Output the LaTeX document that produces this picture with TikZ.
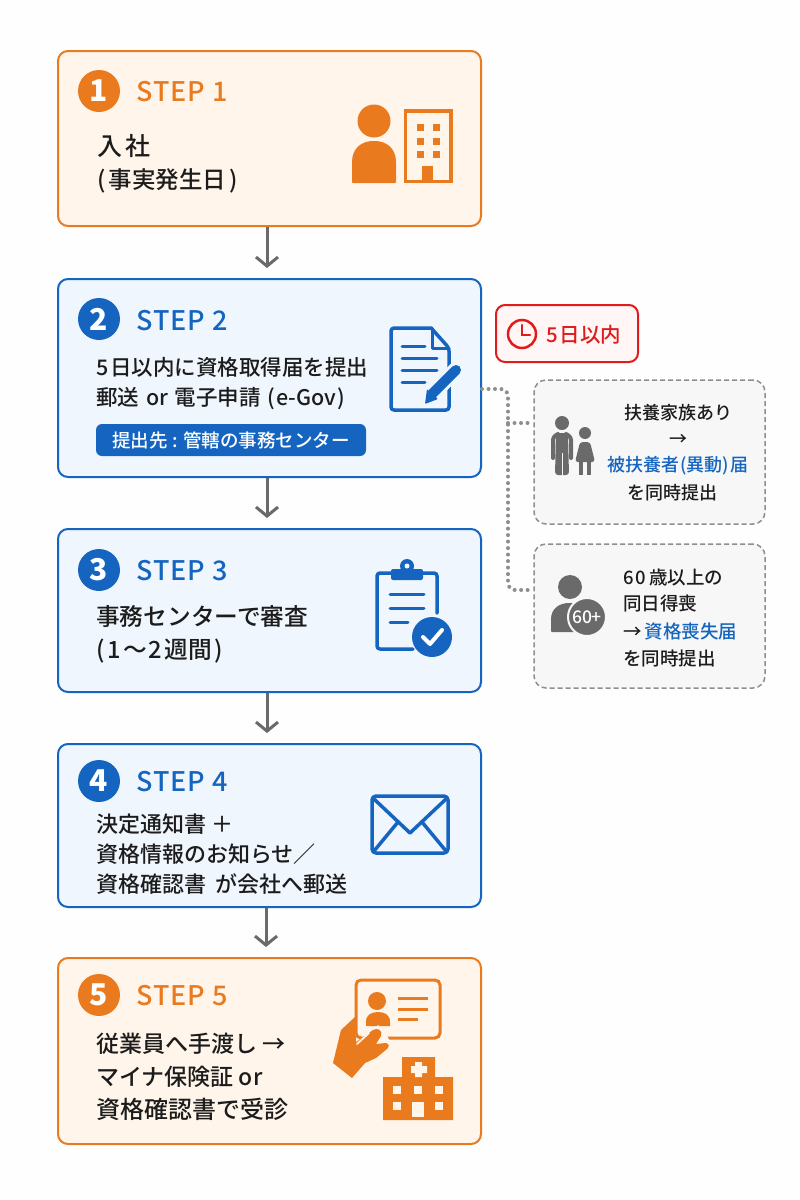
\documentclass[tikz,border=0pt]{standalone}
\usepackage{fontspec}
\setmainfont{Noto Sans CJK JP Medium}
\newfontfamily\titlefont[LetterSpace=4]{Noto Sans CJK JP Medium}
\usetikzlibrary{arrows.meta}
\definecolor{orangeline}{HTML}{EA7A1E}
\definecolor{orangefill}{HTML}{FFF5EB}
\definecolor{blueline}{HTML}{1565C0}
\definecolor{bluefill}{HTML}{F0F6FD}
\definecolor{redline}{HTML}{E01B1B}
\definecolor{redfill}{HTML}{FFF6F5}
\definecolor{grayicon}{HTML}{6A6A6A}
\definecolor{grayline}{HTML}{8E8E8E}
\definecolor{grayfill}{HTML}{F7F7F7}
\definecolor{inktext}{HTML}{1C1C1C}
\definecolor{pagefill}{HTML}{FEFEFE}
\tikzset{
  stepbox/.style={draw=#1line,fill=#1fill,line width=2pt,rounded corners=10pt,
    minimum width=423pt,inner sep=0pt},
  numdot/.style={fill=#1line,shape=circle,minimum size=42pt,inner sep=0pt,
    text=white,font=\fontsize{30}{30}\selectfont\bfseries},
  steptitle/.style={anchor=west,inner sep=0pt,text=#1line,
    font=\fontsize{27}{27}\selectfont\titlefont},
  bodytext/.style={anchor=west,inner sep=0pt,align=left,text=inktext,
    font=\fontsize{#1}{33}\selectfont},
  notebox/.style={draw=grayline,fill=grayfill,line width=1.5pt,
    dash pattern=on 5pt off 3pt,
    rounded corners=12pt,minimum width=231pt,minimum height=144pt,inner sep=0pt},
  notetext/.style={inner sep=0pt,text=inktext,font=\fontsize{18}{18}\selectfont},
  flowarrow/.style={draw=grayicon,line width=3pt,shorten >=10pt,
    -{Straight Barb[length=9pt,width=22pt,line width=3pt]}},
  dotline/.style={draw=grayline,line width=4pt,line cap=round,
    dash pattern=on 0pt off 6.5pt,rounded corners=7pt},
  oline/.style={draw=orangeline,line width=3.5pt},
  bline/.style={draw=blueline,line width=3.5pt,line cap=round},
}
\begin{document}
\begin{tikzpicture}[x=1pt,y=-1pt]
      \useasboundingbox (0,0) rectangle (800,1200) ;
      \fill[pagefill] (0,0) rectangle (800,1200) ;
      % boxes
      \node[stepbox=orange,minimum height=175pt] (s1) at (269.5,138.5) {} ;
      \node[stepbox=blue,minimum height=198pt] (s2) at (269.5,378) {} ;
      \node[stepbox=blue,minimum height=163pt] (s3) at (269.5,610.5) {} ;
      \node[stepbox=blue,minimum height=163pt] (s4) at (269.5,825.5) {} ;
      \node[stepbox=orange,minimum height=186pt] (s5) at (269.5,1051) {} ;
      \node[notebox] (n1) at (649.5,452) {} ;
      \node[notebox] (n2) at (649.5,616) {} ;
      \node[draw=redline,fill=redfill,line width=2pt,rounded corners=9pt,
        minimum width=142pt,minimum height=57pt,inner sep=0pt] (limit) at (567,333.5) {} ;
      % arrows
      \draw[flowarrow] ([xshift=-2.5pt]s1.south) -- ([xshift=-2.5pt]s2.north) ;
      \draw[flowarrow] ([xshift=-2.5pt]s2.south) -- ([xshift=-2.5pt]s3.north) ;
      \draw[flowarrow] ([xshift=-2.5pt]s3.south) -- ([xshift=-2.5pt]s4.north) ;
      \draw[flowarrow] ([xshift=-3.5pt]s4.south) -- ([xshift=-3.5pt]s5.north) ;
      % dotted links
      \coordinate (fork) at (508,423) ;
      \coordinate (out) at (s2.east |- 0,389) ;
      \draw[dotline] (out) -- (508,389) -- (508,590) -- (n2.west |- 0,590) ;
      \draw[dotline] (fork) -- (n1.west |- fork) ;
      % step heads
      \node[numdot=orange] (d1) at (99,91) {1} ;
      \node[numdot=blue] (d2) at (99,319) {2} ;
      \node[numdot=blue] (d3) at (99,570) {3} ;
      \node[numdot=blue] (d4) at (99,781) {4} ;
      \node[numdot=orange] (d5) at (99,995) {5} ;
      \node[steptitle=orange] (t1) at (136,92) {STEP 1} ;
      \node[steptitle=blue] (t2) at (136,321) {STEP 2} ;
      \node[steptitle=blue] (t3) at (136,571) {STEP 3} ;
      \node[steptitle=blue] (t4) at (136,782) {STEP 4} ;
      \node[steptitle=orange] (t5) at (136,996) {STEP 5} ;
      % step texts
      \node[bodytext=25] (b1a) at (97,146) {入\hspace{3pt}社} ;
      \node[bodytext=23.5] (b1b) at (97,181) {(\hspace{3pt}事実発生日\hspace{3pt})} ;
      \node[bodytext=21.5] (b2) at (96,384) {5\hspace{2pt}日以内に資格取得届を提出\\[-3pt]郵送\hspace{2pt} or \hspace{2pt}電子申請\hspace{2pt} (\hspace{1pt}e-Gov\hspace{1pt})} ;
      \node[fill=blueline,rounded corners=6pt,minimum width=270pt,minimum height=32pt,
        inner sep=0pt,text=white,font=\fontsize{18.5}{18.5}\selectfont] (pill) at (231,440)
        {提出先 : 管轄の事務センター} ;
      \node[bodytext=23.7] (b3) at (96,634) {事務センターで審査\\(\hspace{3pt}1\hspace{2pt}～\hspace{2pt}2\hspace{2pt}週間\hspace{3pt})} ;
      \node[bodytext=22] (b4) at (96,854) {決定通知書 ＋\\[-3pt]資格情報のお知らせ／\\[-3pt]資格確認書\hspace{4pt} が会社へ郵送} ;
      \node[bodytext=23] (b5) at (96,1076.5) {従業員へ手渡し →\\マイナ保険証 or\\{\fontsize{24}{33}\selectfont 資格確認書で受診}} ;
      % limit badge
      \draw[draw=redline,line width=2.5pt] (522,334) circle (14pt) ;
      \draw[draw=redline,line width=2.5pt,line cap=round] (522,325) -- (522,335) -- (530,335) ;
      \node[anchor=west,inner sep=0pt,text=redline,font=\fontsize{20.5}{20.5}\selectfont] (lt) at (546,335) {5\hspace{2pt}日以内} ;
      % note texts
      \node[notetext] (n1a) at (678,413) {扶養家族あり} ;
      \node[notetext] (n1b) at (678,440) {→} ;
      \node[notetext,text=blueline] (n1c) at (678,466) {被扶養者\hspace{1pt}(異動)\hspace{1pt}届} ;
      \node[notetext] (n1d) at (672,493) {を同時提出} ;
      \node[notetext,anchor=west,font=\fontsize{18.5}{18.5}\selectfont] (n2a) at (623,577) {6\hspace{2pt}0\hspace{3pt}歳以上の} ;
      \node[notetext,anchor=west,font=\fontsize{18.5}{18.5}\selectfont] (n2b) at (623,603) {同日得喪} ;
      \node[notetext,anchor=west,font=\fontsize{18.5}{18.5}\selectfont] (n2c) at (623,631) {→\,\textcolor{blueline}{資格喪失届}} ;
      \node[notetext,anchor=west,font=\fontsize{18.5}{18.5}\selectfont] (n2d) at (623,658) {を同時提出} ;
      % icon step 1
      \fill[orangeline] (374,121) circle (16.5pt) ;
      \fill[orangeline,rounded corners=1pt] (352,183) -- (352,163) .. controls (352,148) and (362,141) .. (374,141)
        .. controls (386,141) and (396,148) .. (396,163) -- (396,183) -- cycle ;
      \draw[oline] (405.5,111) rectangle (451,181.5) ;
      \foreach \wx in {420,436} \foreach \wy in {127,141,154}
        \fill[orangeline] (\wx-3.5,\wy-3.5) rectangle (\wx+3.5,\wy+3.5) ;
      \fill[orangeline] (422,166) rectangle (433,182) ;
      % icon step 2
      \draw[bline,line join=round,rounded corners=3pt] (432,328) -- (391,328) -- (391,410) -- (449,410) -- (449,348) -- (432,329) ;
      \draw[bline,line join=round,line width=3pt] (432,329) -- (432,348) -- (449,348) ;
      \draw[bline,line width=3pt] (402,346) -- (425,346) (402,358) -- (437,358) (402,370) -- (437,370) (402,382) -- (425,382) ;
      \draw[draw=bluefill,line width=16pt,line cap=round] (432,394) -- (456,370) ;
      \draw[draw=blueline,line width=10pt,line cap=round] (433,393) -- (456,370) ;
      \fill[blueline,rounded corners=1pt] (425,404) -- (427,389) -- (438,399) -- cycle ;
      % icon step 3
      \draw[bline,line join=round,rounded corners=3pt] (392,573) -- (377,573) -- (377,649) -- (413,649) ;
      \draw[bline,rounded corners=3pt] (422,573) -- (437,573) -- (437,613) ;
      \fill[blueline,rounded corners=2pt] (391,569) rectangle (423,580) ;
      \fill[blueline] (407,566) circle (7pt) ;
      \fill[bluefill] (407,566) circle (2.5pt) ;
      \draw[bline,line width=3pt] (390,594) -- (424,594) (390,608) -- (424,608) (390,622) -- (408,622) ;
      \fill[blueline] (432,637) circle (20pt) ;
      \draw[draw=white,line width=4pt,line cap=round,line join=round] (423,637) -- (430,644) -- (442,630) ;
      % icon step 4
      \draw[bline,line join=round,rounded corners=4pt] (372,796) rectangle (448,853) ;
      \draw[bline,line join=round] (374,799) -- (410,833) -- (446,799) ;
      \draw[bline] (374,851) -- (398,822) (446,851) -- (422,822) ;
      % icon step 5
      \draw[oline,line width=3pt,rounded corners=5pt] (356,980) rectangle (440,1038) ;
      \fill[orangeline] (377,1001) circle (9pt) ;
      \fill[orangeline] (366,1026) -- (366,1022) .. controls (366,1015) and (371,1012) .. (378,1012)
        .. controls (385,1012) and (390,1015) .. (390,1022) -- (390,1026) -- cycle ;
      \draw[oline,line width=3pt] (398,998) -- (428,998) (398,1009) -- (428,1009) (398,1019) -- (418,1019) ;
      \fill[orangefill] (352,1024) -- (359,1046) -- (378,1025) -- (386,1033) -- (392,1046) -- (372,1064) -- (350,1080) -- cycle ;
      \fill[orangeline,line join=round] (333,1063) -- (341,1030) -- (355,1017) -- (356,1042) -- (373,1030)
        .. controls (378,1027) and (383,1031) .. (381,1036) -- (376,1044) -- (386,1043) .. controls (390,1044) and (389,1047) .. (387,1049)
        -- (376,1058) -- (365,1063) -- (352,1078) -- cycle ;
      \draw[draw=orangefill,line width=1.8pt,line cap=round] (357,1044) -- (369,1033) ;
      \fill[orangeline] (383,1077) rectangle (453,1120) (402,1057) rectangle (435,1077) ;
      \fill[orangefill] (415,1062) rectangle (422,1077) (411,1066) rectangle (427,1073) ;
      \foreach \wx/\wy in {397/1090,418/1090,439/1090,397/1106,439/1106}
        \fill[orangefill] (\wx-4,\wy-4) rectangle (\wx+4,\wy+4) ;
      \fill[orangefill] (412,1102) rectangle (424,1117) ;
      % icon note 1
      \fill[grayicon] (562,423) circle (7pt) ;
      \fill[grayicon,rounded corners=3pt] (556,433) -- (568,433) -- (569,475) -- (555,475) -- cycle ;
      \draw[draw=grayicon,line width=4pt,line cap=round,rounded corners=3pt] (553,458) -- (553,437) -- (558,434) (566,434) -- (571,437) -- (571,458) ;
      \draw[draw=grayfill,line width=1pt] (562,453) -- (562,476) ;
      \fill[grayicon] (585,433) circle (6pt) ;
      \fill[grayicon,rounded corners=3pt] (575,462) -- (580,442) -- (590,442) -- (595,462) -- cycle ;
      \draw[draw=grayicon,line width=4pt] (581,460) -- (581,475) (589,460) -- (589,475) ;
      % icon note 2
      \fill[grayicon] (570,587) circle (12pt) ;
      \fill[grayicon,rounded corners=1pt] (551,632) -- (551,620) .. controls (551,609) and (559,603) .. (570,603)
        .. controls (581,603) and (590,609) .. (590,620) -- (590,632) -- cycle ;
      \node[draw=grayfill,line width=2pt,fill=grayicon,shape=circle,minimum size=38pt,inner sep=0pt,
        text=white,font=\fontsize{17.5}{17.5}\selectfont] (age) at (587,617) {60+} ;
    \end{tikzpicture}
\end{document}
